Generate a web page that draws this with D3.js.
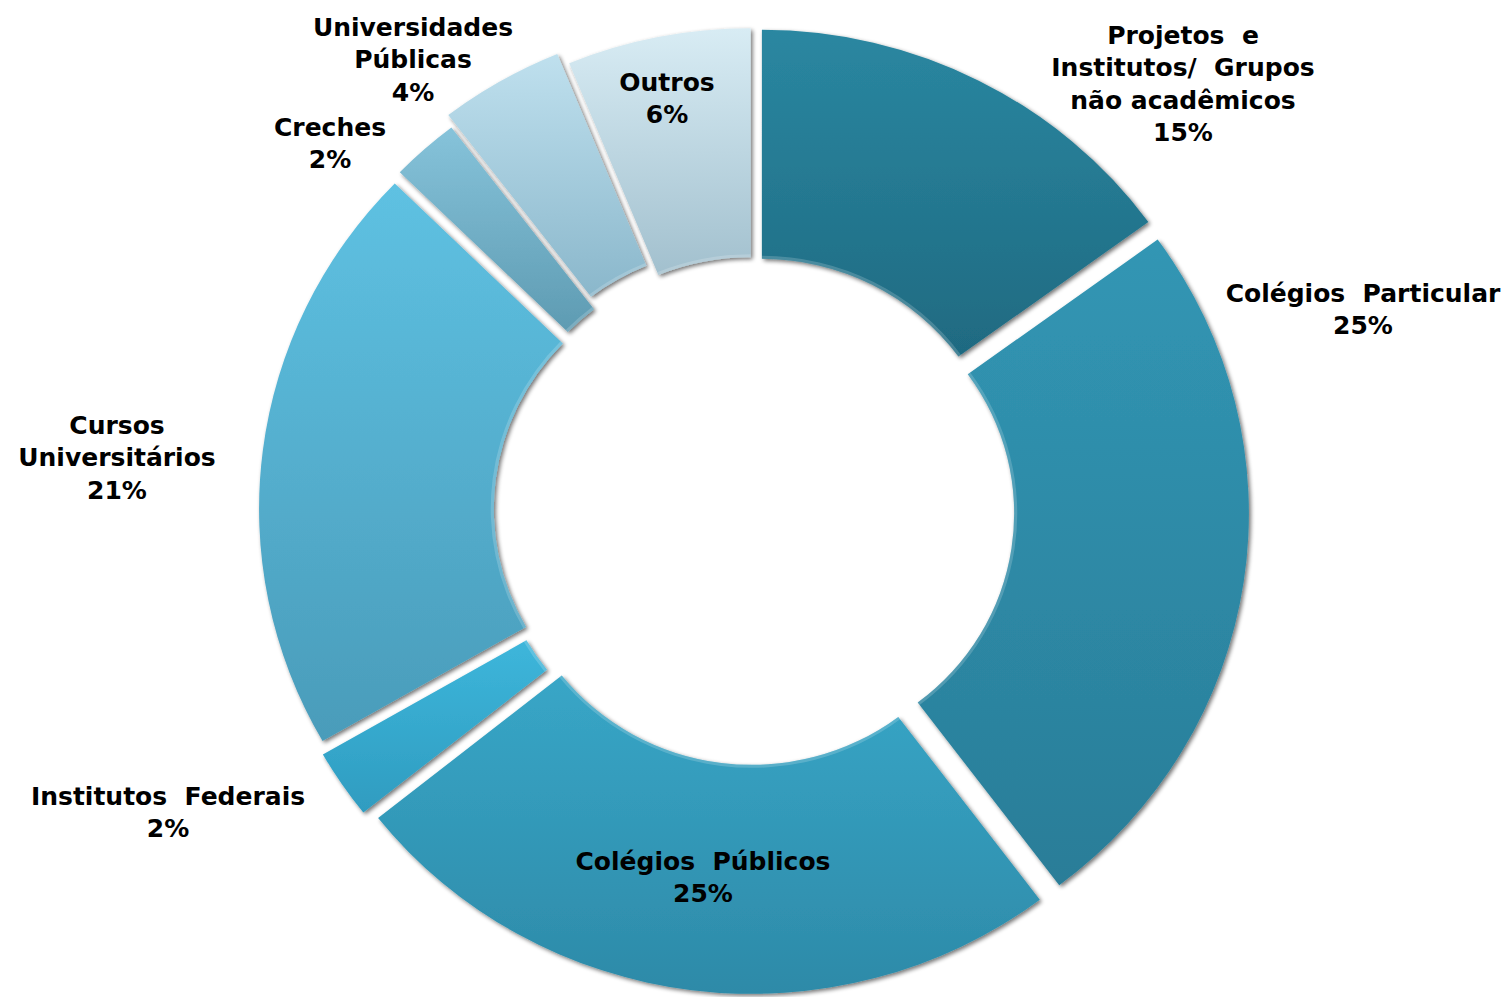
<!DOCTYPE html>
<html>
<head>
<meta charset="utf-8">
<script src="https://cdn.jsdelivr.net/npm/d3@7"></script>
<style>
  html, body { margin: 0; padding: 0; background: #ffffff; }
  svg { display: block; }
  text { font-family: "DejaVu Sans", Verdana, sans-serif; font-weight: bold; fill: #000; white-space: pre; }
</style>
</head>
<body>
<svg id="chart" width="1510" height="997"></svg>
<script>
// ---- data ----
const categories = [
  ["Projetos  e", "Institutos/  Grupos", "não acadêmicos"],
  ["Colégios  Particular"],
  ["Colégios  Públicos"],
  ["Institutos  Federais"],
  ["Cursos", "Universitários"],
  ["Creches"],
  ["Universidades", "Públicas"],
  ["Outros"]
];
// shares (labels show the rounded figures)
const values = [15.0, 24.7, 24.6, 2.4, 20.6, 2.3, 4.2, 6.2];
const percentLabels = ["15%", "25%", "25%", "2%", "21%", "2%", "4%", "6%"];

// ---- styles / layout (kept apart from data) ----
const topColors    = ["#2a87a1", "#3196b4", "#38a6c7", "#3db6db", "#5ec1e2", "#86c3da", "#bfe0ee", "#d8ecf4"];
const bottomColors = ["#1f6a81", "#2a7d98", "#2d8aa8", "#2f9cc0", "#4a9cba", "#5e9bb2", "#8ab7cb", "#a2c0ce"];
const explode      = [17, 17, 17, 20, 17, 18, 30, 17];
const labelPos = [ // label anchor (centre x, first-line centre y)
  [1183, 35], [1363, 293], [703, 861], [168, 796], [117, 425], [330, 127], [413, 27], [667, 82]
];
const cx = 754, cy = 511, outerR = 466, innerR = 237, xStretch = 1.025;
const fontSize = 25, lineGap = 32.3;

const svg = d3.select("#chart");
const defs = svg.append("defs");

const shadow = defs.append("filter").attr("id", "shadow")
  .attr("x", "-20%").attr("y", "-20%").attr("width", "140%").attr("height", "140%");
shadow.append("feGaussianBlur").attr("in", "SourceAlpha").attr("stdDeviation", 2.2).attr("result", "b");
shadow.append("feOffset").attr("in", "b").attr("dx", 1.5).attr("dy", 2).attr("result", "o");
shadow.append("feComponentTransfer").attr("in", "o").attr("result", "s")
  .append("feFuncA").attr("type", "linear").attr("slope", 0.55);
const m = shadow.append("feMerge");
m.append("feMergeNode").attr("in", "s");
m.append("feMergeNode").attr("in", "SourceGraphic");

values.forEach((v, i) => {
  const g = defs.append("linearGradient").attr("id", "grad" + i)
    .attr("x1", 0).attr("y1", 0).attr("x2", 0).attr("y2", 1);
  g.append("stop").attr("offset", "0%").attr("stop-color", topColors[i]);
  g.append("stop").attr("offset", "100%").attr("stop-color", bottomColors[i]);
});

const pie = d3.pie().sort(null).value(d => d).startAngle(0).endAngle(2 * Math.PI);
const arc = d3.arc().innerRadius(innerR).outerRadius(outerR);
const arcs = pie(values);

const chart = svg.append("g")
  .attr("transform", `translate(${cx},${cy}) scale(${xStretch},1)`);

const shift = (d, i) => {
  const a = (d.startAngle + d.endAngle) / 2;
  return `translate(${Math.sin(a) * explode[i]},${-Math.cos(a) * explode[i]})`;
};

chart.selectAll("path.slice")
  .data(arcs)
  .join("path")
  .attr("class", "slice")
  .attr("d", arc)
  .attr("fill", (d, i) => `url(#grad${i})`)
  .attr("filter", "url(#shadow)")
  .attr("transform", shift);

// highlight rim on inner edge
const rim = d3.arc().innerRadius(innerR).outerRadius(innerR + 3);
chart.selectAll("path.rim")
  .data(arcs)
  .join("path")
  .attr("class", "rim")
  .attr("d", rim)
  .attr("fill", "rgba(255,255,255,0.18)")
  .attr("transform", shift);

// labels
const labels = svg.append("g");
categories.forEach((lines, i) => {
  const all = lines.concat([percentLabels[i]]);
  const t = labels.append("text")
    .attr("text-anchor", "middle")
    .attr("font-size", fontSize)
    .attr("xml:space", "preserve");
  all.forEach((s, k) => {
    t.append("tspan")
      .attr("x", labelPos[i][0])
      .attr("y", labelPos[i][1] + k * lineGap)
      .attr("dy", "0.36em")
      .text(s);
  });
});
</script>
</body>
</html>
